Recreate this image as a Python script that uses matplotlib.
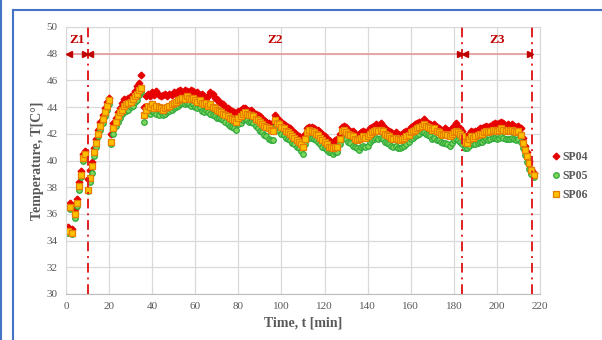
import matplotlib
matplotlib.use("Agg")
import matplotlib.pyplot as plt
from matplotlib.lines import Line2D

plt.rcParams["font.family"] = ["Liberation Serif", "DejaVu Serif"]

# time axis, one reading per minute
time_min = list(range(1, 218))

sp04 = [
    35.0, 36.8, 34.9, 36.4, 37.1, 38.4, 39.2, 40.5, 40.7, 38.6,
    39.3, 39.9, 40.9, 41.6, 42.3, 42.9, 43.4, 43.9, 44.4, 44.7,
    42.0, 42.8, 43.2, 43.6, 43.9, 44.3, 44.6, 44.5, 44.7, 44.8,
    44.9, 45.2, 45.6, 45.8, 46.4, 44.0, 44.8, 45.0, 44.8, 45.1,
    44.9, 45.2, 44.9, 44.8, 44.9, 45.0, 44.8, 45.0, 44.9, 45.1,
    45.0, 45.2, 45.3, 45.1, 45.3, 45.2, 45.1, 45.3, 45.2, 45.0,
    45.1, 44.9, 45.0, 44.8, 44.7, 44.8, 45.1, 45.0, 44.7, 44.6,
    44.4, 44.3, 44.2, 44.0, 43.9, 43.8, 43.7, 43.6, 43.5, 43.7,
    43.8, 43.9, 43.9, 43.8, 43.7, 43.8, 43.6, 43.5, 43.4, 43.3,
    43.1, 43.0, 42.9, 42.8, 42.7, 42.7, 43.4, 43.2, 43.0, 42.9,
    42.7, 42.6, 42.5, 42.4, 42.2, 42.1, 41.9, 41.8, 41.6, 41.5,
    42.0, 42.4, 42.5, 42.5, 42.4, 42.3, 42.3, 42.1, 42.0, 41.8,
    41.6, 41.5, 41.4, 41.4, 41.5, 41.6, 42.0, 42.5, 42.6, 42.5,
    42.3, 42.2, 42.2, 42.0, 41.9, 42.0, 42.1, 42.2, 42.1, 42.2,
    42.4, 42.5, 42.6, 42.7, 42.6, 42.8, 42.6, 42.4, 42.3, 42.2,
    42.1, 42.0, 42.1, 42.0, 41.9, 42.0, 42.1, 42.2, 42.3, 42.5,
    42.6, 42.7, 42.8, 42.9, 42.9, 43.1, 42.9, 42.8, 42.7, 42.6,
    42.7, 42.5, 42.4, 42.3, 42.3, 42.4, 42.3, 42.2, 42.4, 42.6,
    42.8, 42.5, 42.4, 42.2, 41.8, 41.8, 42.0, 42.2, 42.1, 42.2,
    42.3, 42.4, 42.4, 42.5, 42.6, 42.5, 42.6, 42.7, 42.8, 42.7,
    42.8, 42.9, 42.8, 42.6, 42.7, 42.6, 42.7, 42.6, 42.5, 42.6,
    42.4, 41.7, 41.1, 40.6, 40.0, 39.4, 39.1,
]

sp05 = [
    34.6, 36.4, 34.5, 35.7, 36.6, 37.8, 38.8, 40.0, 40.2, 37.7,
    38.4, 39.1, 40.3, 41.0, 41.8, 42.3, 42.8, 43.3, 43.8, 44.2,
    41.2, 42.0, 42.6, 42.9, 43.2, 43.5, 43.6, 43.7, 43.8, 44.0,
    44.1, 44.4, 44.5, 44.9, 45.1, 42.9, 43.5, 43.6, 43.5, 43.7,
    43.6, 43.5, 43.4, 43.6, 43.4, 43.5, 43.6, 43.7, 43.8, 43.9,
    44.0, 44.1, 44.2, 44.3, 44.2, 44.3, 44.2, 44.1, 44.2, 44.0,
    43.9, 44.0, 43.7, 43.6, 43.8, 43.6, 43.5, 43.4, 43.3, 43.2,
    43.2, 43.1, 43.0, 42.9, 42.7, 42.6, 42.5, 42.4, 42.3, 42.7,
    42.8, 43.0, 43.1, 43.0, 42.9, 42.9, 42.8, 42.6, 42.4, 42.2,
    42.1, 41.9, 41.8, 41.6, 41.5, 41.5, 42.5, 42.3, 42.2, 42.0,
    41.9, 41.7, 41.6, 41.5, 41.3, 41.2, 41.0, 40.9, 40.7, 40.5,
    41.2, 41.6, 41.7, 41.7, 41.6, 41.5, 41.4, 41.2, 41.0, 40.9,
    40.8, 40.6, 40.6, 40.5, 40.6, 40.6, 41.2, 41.6, 41.7, 41.6,
    41.4, 41.3, 41.1, 41.0, 40.9, 40.8, 41.0, 41.1, 41.0, 41.1,
    41.4, 41.5, 41.6, 41.7, 41.6, 41.7, 41.6, 41.4, 41.3, 41.2,
    41.1, 41.0, 41.1, 40.9, 40.9, 41.0, 41.1, 41.2, 41.4, 41.6,
    41.7, 41.8, 41.9, 42.0, 42.1, 42.1, 42.0, 41.9, 41.8, 41.6,
    41.7, 41.5, 41.5, 41.4, 41.3, 41.3, 41.2, 41.1, 41.3, 41.5,
    41.6, 41.5, 41.4, 41.2, 40.9, 40.9, 41.1, 41.3, 41.2, 41.2,
    41.3, 41.4, 41.4, 41.5, 41.6, 41.5, 41.6, 41.7, 41.7, 41.6,
    41.7, 41.8, 41.7, 41.6, 41.6, 41.6, 41.7, 41.6, 41.5, 41.6,
    41.4, 40.9, 40.4, 39.9, 39.4, 39.0, 38.8,
]

sp06 = [
    34.7, 36.5, 34.6, 36.0, 36.8, 38.1, 38.9, 40.2, 40.5, 37.8,
    38.7, 39.6, 40.6, 41.3, 42.0, 42.6, 43.1, 43.6, 44.1, 44.5,
    41.4, 42.4, 42.9, 43.3, 43.6, 43.8, 44.1, 44.2, 44.3, 44.4,
    44.6, 44.8, 45.0, 45.3, 45.4, 43.4, 43.8, 44.1, 44.0, 44.2,
    43.9, 44.1, 44.0, 43.9, 43.8, 43.9, 44.0, 44.1, 44.2, 44.3,
    44.4, 44.5, 44.6, 44.7, 44.6, 44.8, 44.7, 44.6, 44.7, 44.5,
    44.4, 44.5, 44.3, 44.2, 44.3, 44.1, 44.2, 44.0, 43.9, 43.8,
    43.7, 43.6, 43.5, 43.4, 43.3, 43.2, 43.1, 43.0, 42.9, 43.2,
    43.3, 43.5, 43.6, 43.5, 43.4, 43.4, 43.3, 43.1, 43.0, 42.9,
    42.7, 42.6, 42.5, 42.4, 42.3, 42.2, 43.0, 42.8, 42.7, 42.5,
    42.4, 42.2, 42.1, 42.0, 41.8, 41.7, 41.5, 41.4, 41.2, 41.0,
    41.6, 42.1, 42.3, 42.2, 42.1, 42.0, 41.9, 41.7, 41.5, 41.4,
    41.2, 41.0, 41.0, 40.9, 41.0, 41.0, 41.6, 42.2, 42.3, 42.1,
    42.0, 41.9, 41.8, 41.6, 41.5, 41.6, 41.7, 41.8, 41.7, 41.8,
    42.0, 42.1, 42.2, 42.3, 42.2, 42.3, 42.2, 42.0, 41.9, 41.8,
    41.7, 41.6, 41.7, 41.6, 41.5, 41.6, 41.7, 41.8, 41.9, 42.1,
    42.2, 42.3, 42.4, 42.5, 42.6, 42.7, 42.6, 42.5, 42.4, 42.3,
    42.4, 42.2, 42.1, 42.0, 41.9, 42.0, 41.9, 41.8, 42.0, 42.1,
    42.2, 42.1, 42.0, 41.8, 41.4, 41.3, 41.6, 41.8, 41.7, 41.8,
    41.9, 42.0, 42.0, 42.1, 42.2, 42.1, 42.2, 42.3, 42.3, 42.2,
    42.3, 42.4, 42.3, 42.2, 42.3, 42.2, 42.3, 42.2, 42.1, 42.2,
    41.9, 41.3, 40.8, 40.3, 39.8, 39.3, 38.9,
]

# zone boundaries [min] and names
zone_bounds = [0, 10, 184, 216.5]
zone_names = ["Z1", "Z2", "Z3"]
zone_level = 48.0

x_ticks = list(range(0, 221, 20))
y_ticks = list(range(30, 51, 2))

GREY = "#595959"
DARKRED = "#C00000"

fig = plt.figure(figsize=(6.02, 3.40), dpi=100)
ax = fig.add_axes([66 / 602, 1 - 294 / 340, 474 / 602, 267 / 340])

ax.plot(time_min, sp04, linestyle="none", marker="D", ms=3.4,
        mfc="#E60000", mec="#E60000", label="SP04")
ax.plot(time_min, sp05, linestyle="none", marker="o", ms=4.0,
        mfc="#7FD55A", mec="#2EAA3C", mew=0.9, label="SP05")
ax.plot(time_min, sp06, linestyle="none", marker="s", ms=3.8,
        mfc="#FFC000", mec="#E67E00", mew=0.9, label="SP06")

# zone boundaries
for xb in zone_bounds[1:]:
    ax.axvline(xb, color="#E02020", lw=1.4, linestyle=(0, (5, 2.5, 1, 2.5)),
               zorder=4)

# zone arrows and labels
for (x0, x1), name in zip(zip(zone_bounds[:-1], zone_bounds[1:]), zone_names):
    ax.plot([x0, x1], [zone_level, zone_level], color="#E8A0A0", lw=1.3,
            zorder=3)
    ax.plot([x0 + 1.2], [zone_level], marker="<", ms=4, color=DARKRED,
            linestyle="none", zorder=5)
    ax.plot([x1 - 1.2], [zone_level], marker=">", ms=4, color=DARKRED,
            linestyle="none", zorder=5)
    ax.text((x0 + x1) / 2, 49.0, name, ha="center", va="center",
            fontsize=9.5, fontweight="bold", color=DARKRED)

ax.set_xlim(0, 220)
ax.set_ylim(30, 50)
ax.set_xticks(x_ticks)
ax.set_yticks(y_ticks)
ax.tick_params(length=0, labelsize=8, labelcolor=GREY, pad=6)
ax.grid(True, color="#D9D9D9", lw=0.9)
ax.set_axisbelow(True)
for side in ["top", "right", "left"]:
    ax.spines[side].set_color("#D9D9D9")
ax.spines["bottom"].set_color("#BFBFBF")

ax.set_xlabel("Time, t [min]", fontsize=10, fontweight="bold", color=GREY,
              labelpad=4)
ax.set_ylabel("Temperature, T[C°]", fontsize=10, fontweight="bold",
              color=GREY, labelpad=2)

fig.legend(loc="center left", bbox_to_anchor=(548 / 602, 1 - 176 / 340),
           frameon=False, handletextpad=0.05, labelspacing=0.6,
           handlelength=1.0, borderpad=0.2, borderaxespad=0.0,
           prop={"weight": "bold", "size": 8.5}, labelcolor=GREY)

# blue frame around the figure
blue = "#4472C4"
fig.add_artist(Line2D([1 / 602, 1 / 602], [0, 1], color=blue, lw=1.5))
fig.add_artist(Line2D([13 / 602, 13 / 602], [0, 1 - 10 / 340], color=blue, lw=1.5))
fig.add_artist(Line2D([13 / 602, 1], [1 - 10 / 340, 1 - 10 / 340], color=blue, lw=1.5))

fig.savefig("out.png", dpi=100)
